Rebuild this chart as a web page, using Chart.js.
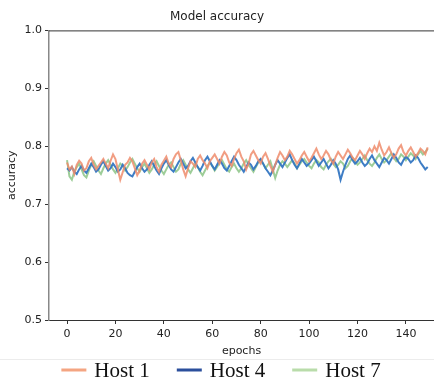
<!DOCTYPE html>
<html>
<head>
<meta charset="utf-8">
<script src="https://cdn.jsdelivr.net/npm/chart.js@4"></script>
<style>
html,body{margin:0;padding:0;background:#fff;overflow:hidden;}
canvas{display:block;}
</style>
</head>
<body>
<canvas id="c" width="434" height="381"></canvas>
<script>
const seriesNames = ["Host 1", "Host 4", "Host 7"];
const yTicks = [0.5, 0.6, 0.7, 0.8, 0.9, 1.0];
const xTicks = [0, 20, 40, 60, 80, 100, 120, 140];

const host1 = [
.772,.760,.765,.752,.768,.775,.770,.758,.762,.774,.780,.768,.760,.766,.772,.778,.770,.762,.775,.786,
.778,.760,.742,.755,.768,.772,.780,.774,.762,.750,.758,.770,.776,.768,.760,.772,.778,.764,.756,.768,
.775,.782,.770,.764,.778,.786,.790,.776,.760,.748,.762,.774,.770,.764,.778,.784,.776,.770,.762,.774,
.780,.786,.778,.770,.782,.790,.784,.772,.766,.778,.788,.794,.782,.774,.760,.770,.786,.792,.784,.776,
.770,.782,.788,.778,.766,.756,.768,.780,.790,.784,.776,.782,.792,.786,.778,.770,.776,.784,.790,.782,
.774,.780,.788,.796,.786,.778,.784,.792,.786,.776,.770,.782,.790,.784,.778,.786,.794,.788,.780,.776,
.784,.792,.786,.778,.788,.796,.790,.800,.792,.806,.794,.784,.790,.798,.788,.780,.786,.796,.802,.790,
.784,.792,.798,.790,.782,.788,.796,.792,.786,.798
];
const host4 = [
.762,.758,.764,.756,.752,.760,.766,.758,.754,.762,.770,.764,.756,.760,.768,.774,.766,.758,.762,.770,
.764,.756,.760,.768,.762,.754,.750,.748,.756,.764,.770,.762,.756,.760,.768,.774,.766,.758,.752,.762,
.770,.776,.768,.760,.756,.764,.772,.778,.770,.762,.766,.774,.780,.772,.764,.758,.766,.776,.782,.774,
.766,.760,.768,.776,.770,.762,.758,.766,.774,.782,.776,.768,.762,.756,.764,.772,.768,.760,.766,.774,
.778,.770,.762,.756,.750,.758,.768,.776,.770,.764,.772,.780,.786,.776,.768,.762,.770,.778,.772,.766,
.770,.776,.782,.774,.766,.772,.778,.770,.762,.768,.776,.770,.760,.742,.756,.768,.778,.784,.776,.770,
.774,.780,.772,.766,.770,.778,.784,.776,.770,.764,.772,.780,.776,.770,.778,.786,.780,.772,.768,.776,
.782,.778,.772,.776,.784,.780,.772,.766,.760,.764
];
const host7 = [
.776,.748,.742,.756,.764,.770,.760,.750,.746,.758,.768,.774,.766,.758,.752,.762,.770,.776,.768,.760,
.754,.762,.770,.766,.758,.764,.772,.778,.770,.762,.756,.764,.770,.762,.754,.760,.768,.774,.766,.758,
.752,.760,.768,.772,.764,.756,.760,.770,.776,.768,.760,.754,.762,.770,.764,.756,.750,.758,.766,.772,
.766,.758,.764,.772,.776,.768,.760,.756,.764,.770,.762,.756,.762,.770,.776,.768,.762,.756,.764,.772,
.776,.770,.762,.768,.774,.760,.745,.758,.768,.774,.770,.764,.770,.776,.770,.762,.768,.774,.778,.772,
.766,.762,.770,.776,.772,.764,.760,.768,.774,.778,.770,.764,.768,.774,.770,.762,.766,.774,.780,.774,
.768,.772,.778,.784,.776,.770,.766,.772,.780,.786,.778,.772,.776,.782,.788,.780,.774,.778,.786,.782,
.776,.782,.788,.784,.778,.786,.792,.786,.790,.796
];

const lineColors = ["rgba(238,140,108,0.85)", "rgba(52,118,194,0.95)", "rgba(140,196,134,0.85)"];
const legendColors = ["#f4a582", "#2b4f9c", "#b9dcaa"];
const seriesData = [host1, host4, host7];

const datasets = seriesData.map((arr, i) => ({
  label: seriesNames[i],
  data: arr.map((v, k) => ({x: k, y: v})),
  borderColor: lineColors[i],
  backgroundColor: lineColors[i],
  borderWidth: 2,
  pointRadius: 0,
  tension: 0,
  fill: false
}));

const sansFont = "'DejaVu Sans', sans-serif";
const legendFont = "21px 'Liberation Serif', 'DejaVu Serif', serif";

const decor = {
  id: 'decor',
  afterDraw(chart) {
    const ctx = chart.ctx, a = chart.chartArea;
    ctx.save();
    ctx.strokeStyle = '#333';
    ctx.lineWidth = 1;
    ctx.beginPath();
    ctx.moveTo(a.left, a.top + 0.5);
    ctx.lineTo(a.right, a.top + 0.5);
    ctx.stroke();
    ctx.strokeStyle = '#ececec';
    ctx.beginPath();
    ctx.moveTo(0, 359.5);
    ctx.lineTo(chart.width, 359.5);
    ctx.stroke();
    ctx.font = legendFont;
    ctx.textBaseline = 'middle';
    const lineLen = 25, gapText = 8, gapItem = 27;
    const widths = seriesNames.map(n => ctx.measureText(n).width);
    const total = widths.reduce((s, w) => s + lineLen + gapText + w, 0) + gapItem * (seriesNames.length - 1);
    let x = chart.width / 2 + 4 - total / 2;
    const y = 370;
    seriesNames.forEach((n, i) => {
      ctx.strokeStyle = legendColors[i];
      ctx.lineWidth = 3;
      ctx.beginPath();
      ctx.moveTo(x, y);
      ctx.lineTo(x + lineLen, y);
      ctx.stroke();
      ctx.fillStyle = '#111';
      ctx.fillText(n, x + lineLen + gapText, y + 1);
      x += lineLen + gapText + widths[i] + gapItem;
    });
    ctx.restore();
  }
};

new Chart(document.getElementById('c'), {
  type: 'line',
  data: { datasets },
  options: {
    responsive: false,
    animation: false,
    layout: { padding: { left: 0, right: 0, top: 0, bottom: 23 } },
    plugins: {
      title: {
        display: true,
        text: 'Model accuracy',
        color: '#222',
        font: { family: sansFont, size: 12, weight: 'normal' },
        padding: { top: 10, bottom: 6 }
      },
      legend: { display: false },
      tooltip: { enabled: false }
    },
    scales: {
      x: {
        type: 'linear',
        min: -7.45,
        max: 151.6,
        afterBuildTicks(scale) { scale.ticks = xTicks.map(v => ({ value: v })); },
        afterFit(scale) { scale.height = 38; },
        ticks: {
          color: '#222',
          font: { family: sansFont, size: 11 },
          padding: 4,
          maxRotation: 0,
          callback: v => String(v)
        },
        grid: { display: true, drawOnChartArea: false, tickLength: 4, color: '#333' },
        border: { display: true, color: '#333', width: 1 },
        title: {
          display: true,
          text: 'epochs',
          color: '#222',
          font: { family: sansFont, size: 11 },
          padding: { top: -2, bottom: 0 }
        }
      },
      y: {
        min: 0.5,
        max: 1.0,
        afterBuildTicks(scale) { scale.ticks = yTicks.map(v => ({ value: v })); },
        afterFit(scale) { scale.width = 49; },
        ticks: {
          color: '#222',
          font: { family: sansFont, size: 11 },
          padding: 3,
          callback: v => Number(v).toFixed(1)
        },
        grid: { display: true, drawOnChartArea: false, tickLength: 4, color: '#333' },
        border: { display: true, color: '#888', width: 1.5 },
        title: {
          display: true,
          text: 'accuracy',
          color: '#222',
          font: { family: sansFont, size: 11 },
          padding: { top: 6, bottom: 0 }
        }
      }
    }
  },
  plugins: [decor]
});
</script>
</body>
</html>
